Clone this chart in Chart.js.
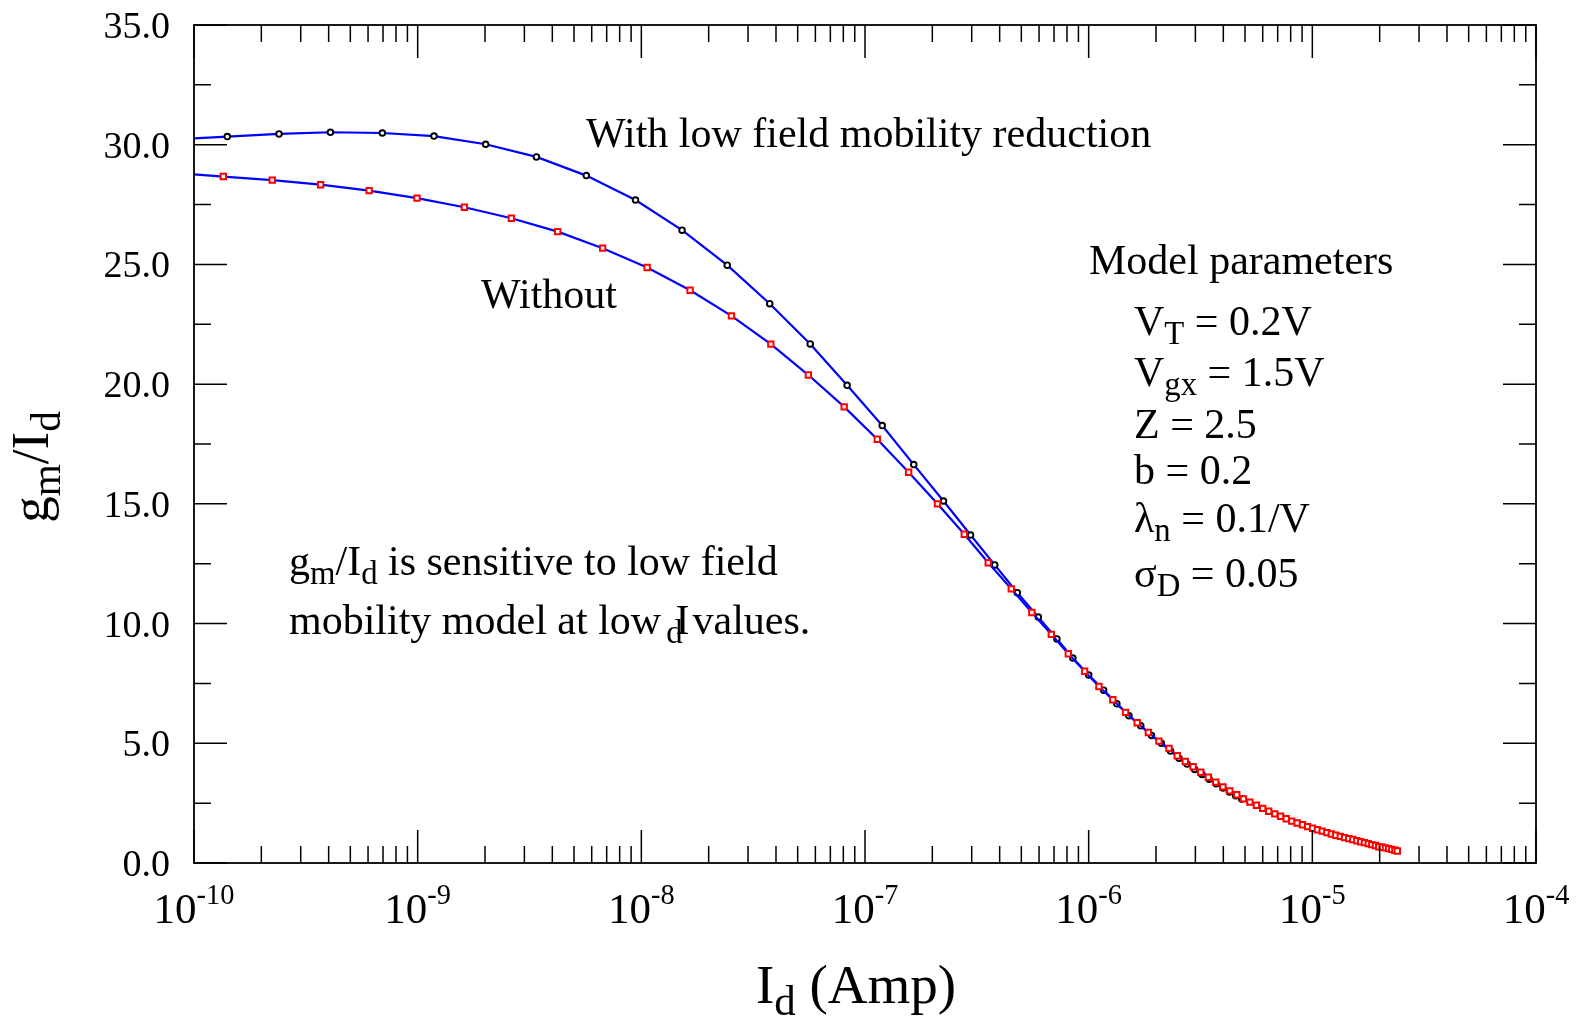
<!DOCTYPE html>
<html><head><meta charset="utf-8">
<script src="https://cdn.jsdelivr.net/npm/chart.js@4.4.1/dist/chart.umd.min.js"></script>
<style>html,body{margin:0;padding:0;background:#fff;overflow:hidden}canvas{display:block}</style>
</head><body>
<canvas id="c" width="1576" height="1017"></canvas>
<script>
// ---- data (x stored as log10 of Id in Amp) ----
const withLogId = [-10.082, -9.851, -9.620, -9.390, -9.158, -8.927, -8.696, -8.469, -8.246, -8.026,
  -7.818, -7.616, -7.426, -7.245, -7.080, -6.923, -6.782, -6.649, -6.528, -6.420,
  -6.319, -6.225, -6.142, -6.071, -6.000, -5.933, -5.874, -5.820, -5.767, -5.719,
  -5.675, -5.634, -5.596, -5.560, -5.526, -5.493, -5.461, -5.430, -5.400, -5.371,
  -5.343, -5.316];
const withGmId = [30.22, 30.34, 30.45, 30.52, 30.49, 30.36, 30.02, 29.49, 28.71, 27.69,
  26.43, 24.97, 23.36, 21.68, 19.95, 18.27, 16.64, 15.12, 13.70, 12.45,
  11.29, 10.27, 9.36, 8.56, 7.85, 7.22, 6.65, 6.15, 5.73, 5.33,
  5.00, 4.68, 4.38, 4.13, 3.91, 3.70, 3.50, 3.31, 3.13, 2.97,
  2.81, 2.67];
const withoutLogId = [-10.088, -9.869, -9.650, -9.434, -9.217, -9.003, -8.791, -8.581, -8.374, -8.173,
  -7.974, -7.782, -7.597, -7.421, -7.253, -7.093, -6.945, -6.805, -6.676, -6.556,
  -6.449, -6.346, -6.254, -6.167, -6.091, -6.018, -5.954, -5.892, -5.835, -5.783,
  -5.733, -5.686, -5.641, -5.604, -5.568, -5.533, -5.499, -5.465, -5.432, -5.400,
  -5.369, -5.338, -5.308, -5.279, -5.250, -5.222, -5.195, -5.168, -5.142, -5.117,
  -5.092, -5.068, -5.044, -5.021, -4.999, -4.977, -4.956, -4.935, -4.915, -4.895,
  -4.875, -4.856, -4.837, -4.819, -4.801, -4.784, -4.767, -4.750, -4.734, -4.718,
  -4.703, -4.688, -4.673, -4.659, -4.645, -4.631, -4.620];
const withoutGmId = [28.82, 28.67, 28.52, 28.33, 28.08, 27.77, 27.39, 26.93, 26.37, 25.68,
  24.87, 23.92, 22.85, 21.67, 20.38, 19.05, 17.70, 16.32, 15.00, 13.73,
  12.54, 11.45, 10.46, 9.55, 8.74, 8.01, 7.37, 6.82, 6.29, 5.86,
  5.45, 5.09, 4.79, 4.48, 4.24, 4.02, 3.79, 3.58, 3.38, 3.18,
  3.01, 2.85, 2.68, 2.54, 2.41, 2.28, 2.16, 2.05, 1.95, 1.85,
  1.75, 1.67, 1.60, 1.52, 1.45, 1.39, 1.33, 1.27, 1.21, 1.16,
  1.11, 1.06, 1.02, 0.98, 0.93, 0.89, 0.85, 0.81, 0.77, 0.73,
  0.68, 0.66, 0.63, 0.60, 0.57, 0.53, 0.50];

const xDecadeExponents = [-10, -9, -8, -7, -6, -5, -4];
const xTickLabelExponents = ['-10', '-9', '-8', '-7', '-6', '-5', '-4'];
const xMinorMultipliers = [2, 3, 4, 5, 6, 7, 8, 9];
const yMajorTicks = [0, 5, 10, 15, 20, 25, 30, 35];
const yTickLabels = ['0.0', '5.0', '10.0', '15.0', '20.0', '25.0', '30.0', '35.0'];
const yMinorTicks = [2.5, 7.5, 12.5, 17.5, 22.5, 27.5, 32.5];

const FONT = '"Liberation Serif", "Times New Roman", serif';

function segSize(p, B) { return p.s === 'sub' ? B * 0.78 : p.s === 'sup' ? B * 0.66 : B; }
function segDy(p, B) { return p.s === 'sub' ? B * 0.22 : p.s === 'sup' ? -B * 0.45 : 0; }
function richWidth(ctx, parts, B) {
  let w = 0;
  for (const p of parts) { ctx.font = segSize(p, B) + 'px ' + FONT; w += (p.dx || 0) + ctx.measureText(p.t).width; }
  return w;
}
function drawRich(ctx, parts, x, y, B, align) {
  const w = richWidth(ctx, parts, B);
  let cx = align === 'center' ? x - w / 2 : align === 'right' ? x - w : x;
  ctx.textAlign = 'left'; ctx.textBaseline = 'alphabetic'; ctx.fillStyle = '#000';
  for (const p of parts) {
    ctx.font = segSize(p, B) + 'px ' + FONT;
    cx += (p.dx || 0);
    ctx.fillText(p.t, cx, y + segDy(p, B));
    cx += ctx.measureText(p.t).width;
  }
}

const decorPlugin = {
  id: 'decor',
  afterDatasetsDraw(chart) {
    const ctx = chart.ctx, a = chart.chartArea, xs = chart.scales.x, ys = chart.scales.y;
    ctx.save();
    ctx.strokeStyle = '#000'; ctx.lineWidth = 1.8; ctx.lineCap = 'butt';
    ctx.strokeRect(a.left, a.top, a.right - a.left, a.bottom - a.top);
    ctx.lineWidth = 1.5;
    const MAJ = 33, MIN = 17;
    ctx.beginPath();
    xDecadeExponents.forEach((e, i) => {
      const px = xs.getPixelForValue(Math.pow(10, e));
      ctx.moveTo(px, a.bottom); ctx.lineTo(px, a.bottom - MAJ);
      ctx.moveTo(px, a.top); ctx.lineTo(px, a.top + MAJ);
      if (i < xDecadeExponents.length - 1) {
        xMinorMultipliers.forEach(m => {
          const q = xs.getPixelForValue(m * Math.pow(10, e));
          ctx.moveTo(q, a.bottom); ctx.lineTo(q, a.bottom - MIN);
          ctx.moveTo(q, a.top); ctx.lineTo(q, a.top + MIN);
        });
      }
    });
    yMajorTicks.forEach(v => {
      const py = ys.getPixelForValue(v);
      ctx.moveTo(a.left, py); ctx.lineTo(a.left + MAJ, py);
      ctx.moveTo(a.right, py); ctx.lineTo(a.right - MAJ, py);
    });
    yMinorTicks.forEach(v => {
      const py = ys.getPixelForValue(v);
      ctx.moveTo(a.left, py); ctx.lineTo(a.left + MIN, py);
      ctx.moveTo(a.right, py); ctx.lineTo(a.right - MIN, py);
    });
    ctx.stroke();

    ctx.fillStyle = '#000'; ctx.textAlign = 'right'; ctx.textBaseline = 'alphabetic';
    ctx.font = '38px ' + FONT;
    yMajorTicks.forEach((v, i) => {
      ctx.fillText(yTickLabels[i], 170, ys.getPixelForValue(v) + 13);
    });
    xDecadeExponents.forEach((e, i) => {
      const px = xs.getPixelForValue(Math.pow(10, e));
      drawRich(ctx, [{ t: '10' }, { t: xTickLabelExponents[i], s: 'sup' }], px, 923, 43, 'center');
    });

    drawRich(ctx, [{ t: 'I' }, { t: 'd', s: 'sub' }, { t: ' (Amp)' }], 856, 1003, 55, 'center');
    ctx.save();
    ctx.translate(48, 467); ctx.rotate(-Math.PI / 2);
    drawRich(ctx, [{ t: 'g' }, { t: 'm', s: 'sub' }, { t: '/I' }, { t: 'd', s: 'sub' }], 0, 0, 53, 'center');
    ctx.restore();

    const B = 42;
    drawRich(ctx, [{ t: 'With low field mobility reduction' }], 586, 147, B, 'left');
    drawRich(ctx, [{ t: 'Without' }], 481, 308, B, 'left');
    drawRich(ctx, [{ t: 'Model parameters' }], 1089, 274, B, 'left');
    const px0 = 1134;
    drawRich(ctx, [{ t: 'V' }, { t: 'T', s: 'sub' }, { t: ' = 0.2V' }], px0, 335, B, 'left');
    drawRich(ctx, [{ t: 'V' }, { t: 'gx', s: 'sub' }, { t: ' = 1.5V' }], px0, 386, B, 'left');
    drawRich(ctx, [{ t: 'Z = 2.5' }], px0, 438, B, 'left');
    drawRich(ctx, [{ t: 'b = 0.2' }], px0, 484, B, 'left');
    drawRich(ctx, [{ t: '\u03bb' }, { t: 'n', s: 'sub' }, { t: ' = 0.1/V' }], px0, 532, B, 'left');
    drawRich(ctx, [{ t: '\u03c3' }, { t: 'D', s: 'sub' }, { t: ' = 0.05' }], px0, 587, B, 'left');
    drawRich(ctx, [{ t: 'g' }, { t: 'm', s: 'sub' }, { t: '/I' }, { t: 'd', s: 'sub' }, { t: ' is sensitive to low field' }], 289, 575, B, 'left');
    drawRich(ctx, [{ t: 'mobility model at low' }, { t: 'd', s: 'sub', dx: 5 }, { t: 'I', dx: -7 }, { t: 'values.', dx: 3 }], 289, 634, B, 'left');
    ctx.restore();
  }
};

const toPoints = (xs, ys) => xs.map((e, i) => ({ x: Math.pow(10, e), y: ys[i] }));

new Chart(document.getElementById('c').getContext('2d'), {
  type: 'scatter',
  data: {
    datasets: [
      {
        label: 'Without', data: toPoints(withoutLogId, withoutGmId), showLine: true,
        borderColor: '#0000ff', borderWidth: 2.2, tension: 0,
        pointStyle: 'rect', pointRadius: 3.8, pointBorderColor: '#ff0000',
        pointBackgroundColor: '#ffffff', pointBorderWidth: 2, order: 0
      },
      {
        label: 'With low field mobility reduction', data: toPoints(withLogId, withGmId), showLine: true,
        borderColor: '#0000ff', borderWidth: 2.2, tension: 0,
        pointStyle: 'circle', pointRadius: 2.8, pointBorderColor: '#000000',
        pointBackgroundColor: '#ffffff', pointBorderWidth: 1.9, order: 1
      }
    ]
  },
  options: {
    responsive: false, animation: false, devicePixelRatio: 1, events: [],
    layout: { padding: { left: 194, right: 40, top: 25, bottom: 154 } },
    plugins: { legend: { display: false }, tooltip: { enabled: false } },
    scales: {
      x: { type: 'logarithmic', min: 1e-10, max: 1e-4, display: false },
      y: { type: 'linear', min: 0, max: 35, display: false }
    }
  },
  plugins: [decorPlugin]
});
</script>
</body></html>
